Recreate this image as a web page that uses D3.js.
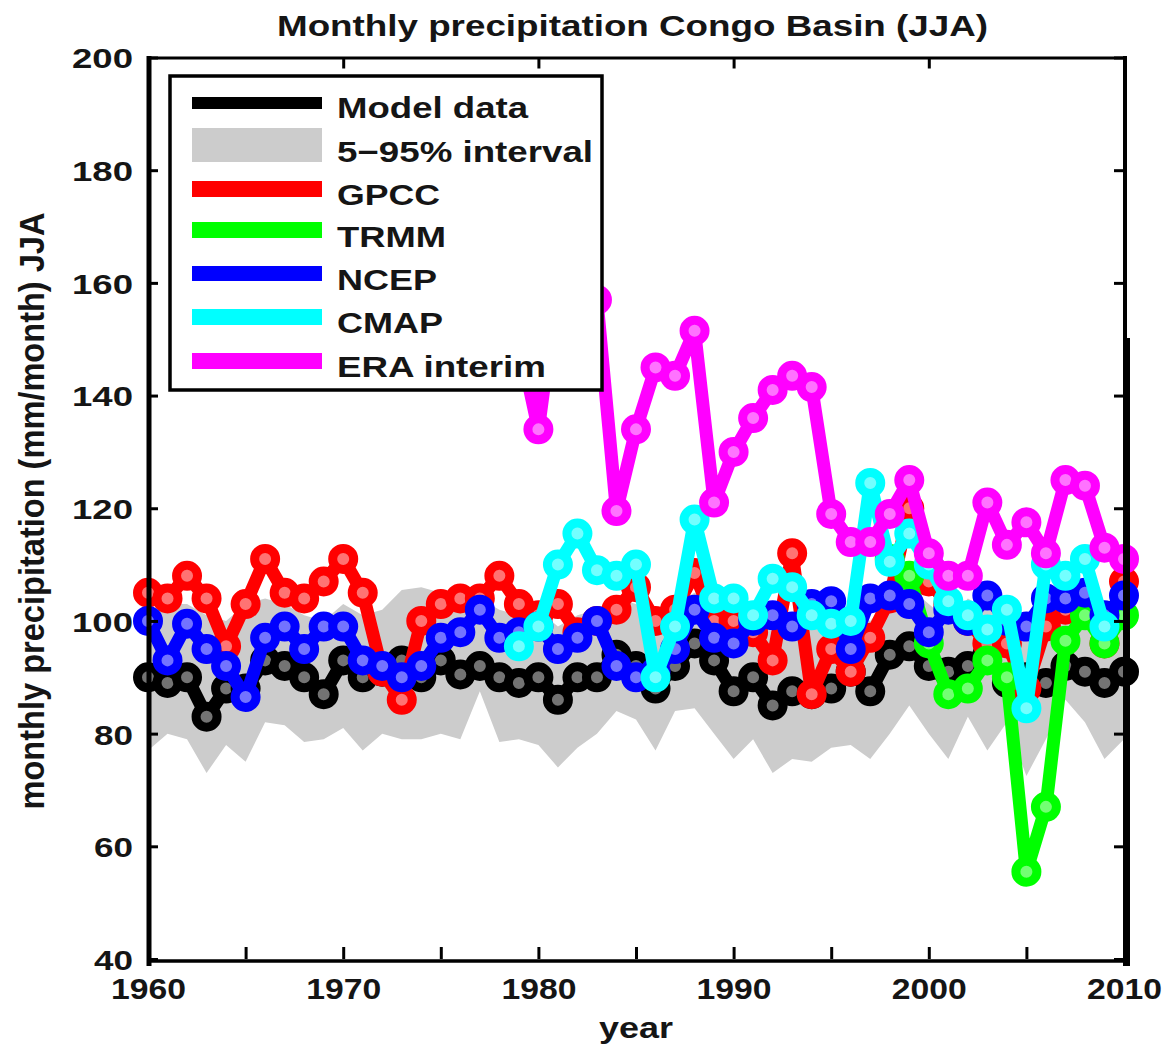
<!DOCTYPE html>
<html>
<head>
<meta charset="utf-8">
<title>Monthly precipitation Congo Basin (JJA)</title>
<script src="https://cdn.jsdelivr.net/npm/d3@7"></script>
<style>
  body { margin: 0; background: #fff; }
  text { font-family: "Liberation Sans", Arial, Helvetica, sans-serif; font-weight: bold; fill: #151515; }
</style>
</head>
<body>
<svg id="chart" width="1169" height="1048"></svg>
<script>
// ---- data (mm/month, JJA mean), one value per year from the given start year ----
const modelStart = 1960;
const modelData = [90, 89, 90, 83, 88, 88, 93, 92, 90, 87, 93, 90, 91, 93, 90, 93, 90.5, 92, 90, 89,
                   90, 86, 90, 90, 94, 92, 88, 92, 96, 93, 87.5, 90, 85, 87.5, 87, 88, 91, 87.5, 94, 95.5,
                   92, 91, 92, 94, 89, 90, 89, 92, 91, 89, 91];
const bandLow  = [77, 80, 79, 73, 78, 75, 82, 81.5, 78.5, 79, 81, 77, 80, 79, 79, 80, 79, 87.5, 78.5, 79,
                  78, 74, 77.5, 80, 84, 82.5, 77, 84, 84.5, 80, 75.5, 79, 73, 75.5, 75, 77.5, 78, 75.5, 80, 85,
                  80, 75.5, 83, 77, 82, 72.5, 79, 86, 82, 75.5, 79];
const bandHigh = [102, 103, 103, 101, 100, 103, 104, 103, 101, 100, 103, 101, 102, 105.5, 106, 105, 103, 104, 102, 101,
                  102, 99, 101, 102, 104, 103, 100, 103, 105, 103, 99, 101, 98, 99, 100, 101, 102, 100, 104, 106,
                  103, 100, 104, 102, 103, 98, 101, 105, 104, 100, 102];
const gpccStart = 1960;
const gpcc = [105, 104, 108, 104, 95.5, 103, 111, 105, 104, 107, 111, 105, 91, 86, 100, 103, 104, 104, 108, 103,
              101, 103, 98, 100, 102, 106, 100, 102, 108.5, 100, 100, 98, 93, 112, 87, 95, 91, 97, 104, 120,
              107, 103, 100, 96, 96, 88, 99, 102, 102, 96, 107];
const trmmStart = 1998;
const trmm = [111, 108, 96, 87, 88, 93, 90, 55.5, 67, 96.5, 101, 96, 101];
const ncepStart = 1960;
const ncep = [100, 93, 99.5, 95, 92, 86.5, 97, 99, 95, 99, 99, 93, 92, 90, 92, 97, 98, 102, 97, 98,
              99, 95, 97, 100, 92, 90, 91, 95, 102, 97, 96, 100, 101, 99, 103, 103.5, 95, 104, 104.5, 103,
              98, 102, 100, 104.5, 100, 99, 104, 104, 105, 101, 104.5];
const cmapStart = 1979;
const cmap = [95.5, 99, 110, 115.5, 109, 108, 110, 90, 99, 118, 104, 104, 101, 107.5, 106, 101, 99.5, 100, 124.5, 110.5,
              115.5, 110, 103.5, 101, 98.5, 102, 84.5, 110, 108, 111, 99];
const eraStart = 1979;
const era = [150, 134, 160, 165, 157, 119.5, 134, 145, 143.5, 151.5, 121, 130, 136, 141, 143.5, 141.5, 119, 114, 114, 119,
             125, 112, 108, 108, 121, 113.5, 117.5, 112, 125, 124, 113, 111];

const xMinorTicks = [1960, 1965, 1970, 1975, 1980, 1985, 1990, 1995, 2000, 2005, 2010];
const xLabelTicks = [1960, 1970, 1980, 1990, 2000, 2010];
const yTicks = [40, 60, 80, 100, 120, 140, 160, 180, 200];
const legendLabels = ["Model data", "5\u221295% interval", "GPCC", "TRMM", "NCEP", "CMAP", "ERA interim"];
const seriesColors = { model: "#000000", band: "#cccccc", gpcc: "#ff0000", trmm: "#00ff00",
                       ncep: "#0000ff", cmap: "#00ffff", era: "#ff00ff" };

// ---- layout ----
const svg = d3.select("#chart");
const x = d3.scaleLinear().domain([1960, 2010]).range([148, 1124]);
const y = d3.scaleLinear().domain([40, 200]).range([959, 57.5]);

const toPoints = (start, vals) => vals.map((v, i) => ({ year: start + i, v }));

const plot = svg.append("g");

// 5-95% model spread
const bandPts = bandLow.map((lo, i) => ({ year: modelStart + i, lo, hi: bandHigh[i] }));
plot.append("path")
  .datum(bandPts)
  .attr("fill", seriesColors.band)
  .attr("d", d3.area().x(d => x(d.year)).y0(d => y(d.lo)).y1(d => y(d.hi)));

// observation / model lines with ring markers
function drawSeries(pts, color) {
  const g = plot.append("g");
  g.append("path")
    .datum(pts)
    .attr("fill", "none")
    .attr("stroke", color)
    .attr("stroke-width", 13)
    .attr("stroke-linejoin", "round")
    .attr("stroke-linecap", "round")
    .attr("d", d3.line().x(d => x(d.year)).y(d => y(d.v)));
  g.selectAll("circle")
    .data(pts)
    .join("circle")
    .attr("cx", d => x(d.year))
    .attr("cy", d => y(d.v))
    .attr("r", 10.5)
    .attr("fill", "#ffffff")
    .attr("fill-opacity", 0.45)
    .attr("stroke", color)
    .attr("stroke-width", 9);
}
drawSeries(toPoints(modelStart, modelData), seriesColors.model);
drawSeries(toPoints(gpccStart, gpcc), seriesColors.gpcc);
drawSeries(toPoints(trmmStart, trmm), seriesColors.trmm);
drawSeries(toPoints(ncepStart, ncep), seriesColors.ncep);
drawSeries(toPoints(cmapStart, cmap), seriesColors.cmap);
drawSeries(toPoints(eraStart, era), seriesColors.era);

// ---- legend ----
const legend = svg.append("g");
legend.append("rect")
  .attr("x", 170).attr("y", 76).attr("width", 432).attr("height", 314)
  .attr("fill", "#fff").attr("stroke", "#000").attr("stroke-width", 3.5);
const legendRows = [
  { color: seriesColors.model, top: 97,  h: 12, base: 118, w: 191 },
  { color: seriesColors.band,  top: 128, h: 34, base: 162, w: 256 },
  { color: seriesColors.gpcc,  top: 181, h: 16, base: 205, w: 103 },
  { color: seriesColors.trmm,  top: 222, h: 16, base: 247, w: 109 },
  { color: seriesColors.ncep,  top: 266, h: 15, base: 290, w: 100 },
  { color: seriesColors.cmap,  top: 309, h: 16, base: 333, w: 106 },
  { color: seriesColors.era,   top: 353, h: 16, base: 377, w: 209 }
];
legendRows.forEach((r, i) => {
  legend.append("rect").attr("x", 192).attr("y", r.top).attr("width", 130).attr("height", r.h).attr("fill", r.color);
  legend.append("text").attr("x", 337).attr("y", r.base)
    .attr("font-size", 29).attr("textLength", r.w).attr("lengthAdjust", "spacingAndGlyphs")
    .text(legendLabels[i]);
});

// ---- axes ----
const axes = svg.append("g");
const axisBottomG = axes.append("g").attr("transform", `translate(0,${y(40)})`)
  .call(d3.axisBottom(x).tickValues(xMinorTicks).tickSizeInner(-12).tickSizeOuter(0)
        .tickFormat(d => xLabelTicks.includes(d) ? String(d) : ""));
axisBottomG.select(".domain").remove();
axisBottomG.selectAll(".tick line").attr("stroke", "#000").attr("stroke-width", 3);
axisBottomG.selectAll(".tick text").attr("y", 40).attr("dy", 0).attr("font-size", 29)
  .attr("fill", "#151515").attr("font-family", null)
  .attr("textLength", 75).attr("lengthAdjust", "spacingAndGlyphs");

const axisTopG = axes.append("g").attr("transform", `translate(0,${y(200)})`)
  .call(d3.axisTop(x).tickValues(xLabelTicks).tickSizeInner(-11).tickSizeOuter(0).tickFormat(""));
axisTopG.select(".domain").remove();
axisTopG.selectAll(".tick line").attr("stroke", "#000").attr("stroke-width", 3);

const axisLeftG = axes.append("g").attr("transform", `translate(149,0)`)
  .call(d3.axisLeft(y).tickValues(yTicks).tickSizeInner(-9).tickSizeOuter(0).tickPadding(16));
axisLeftG.select(".domain").remove();
axisLeftG.selectAll(".tick line").attr("stroke", "#000").attr("stroke-width", 3);
axisLeftG.selectAll(".tick text").attr("font-size", 28).attr("dy", "0.37em")
  .attr("fill", "#151515").attr("font-family", null)
  .attr("textLength", d => d >= 100 ? 61 : 39).attr("lengthAdjust", "spacingAndGlyphs");

const axisRightG = axes.append("g").attr("transform", `translate(1125,0)`)
  .call(d3.axisRight(y).tickValues(yTicks).tickSizeInner(-11).tickSizeOuter(0).tickFormat(""));
axisRightG.select(".domain").remove();
axisRightG.selectAll(".tick line").attr("stroke", "#000").attr("stroke-width", 3);

// frame
axes.append("line").attr("x1", 147).attr("x2", 1127).attr("y1", 58).attr("y2", 58).attr("stroke", "#000").attr("stroke-width", 3);
axes.append("line").attr("x1", 147).attr("x2", 1127).attr("y1", 961).attr("y2", 961).attr("stroke", "#000").attr("stroke-width", 3.5);
axes.append("line").attr("x1", 149).attr("x2", 149).attr("y1", 56).attr("y2", 966).attr("stroke", "#000").attr("stroke-width", 5);
axes.append("line").attr("x1", 1125).attr("x2", 1125).attr("y1", 56).attr("y2", 338).attr("stroke", "#000").attr("stroke-width", 4);
axes.append("line").attr("x1", 1126.5).attr("x2", 1126.5).attr("y1", 338).attr("y2", 966).attr("stroke", "#000").attr("stroke-width", 7);

// ---- titles ----
svg.append("text").attr("x", 277).attr("y", 36).attr("font-size", 29)
  .attr("textLength", 711).attr("lengthAdjust", "spacingAndGlyphs")
  .text("Monthly precipitation Congo Basin (JJA)");
svg.append("text").attr("x", 636).attr("y", 1038).attr("font-size", 29).attr("text-anchor", "middle")
  .attr("textLength", 74).attr("lengthAdjust", "spacingAndGlyphs")
  .text("year");
svg.append("text")
  .attr("transform", "translate(44,511) scale(1.2,1) rotate(-90)")
  .attr("font-size", 29).attr("text-anchor", "middle")
  .attr("textLength", 597).attr("lengthAdjust", "spacingAndGlyphs")
  .text("monthly precipitation (mm/month) JJA");
</script>
</body>
</html>
